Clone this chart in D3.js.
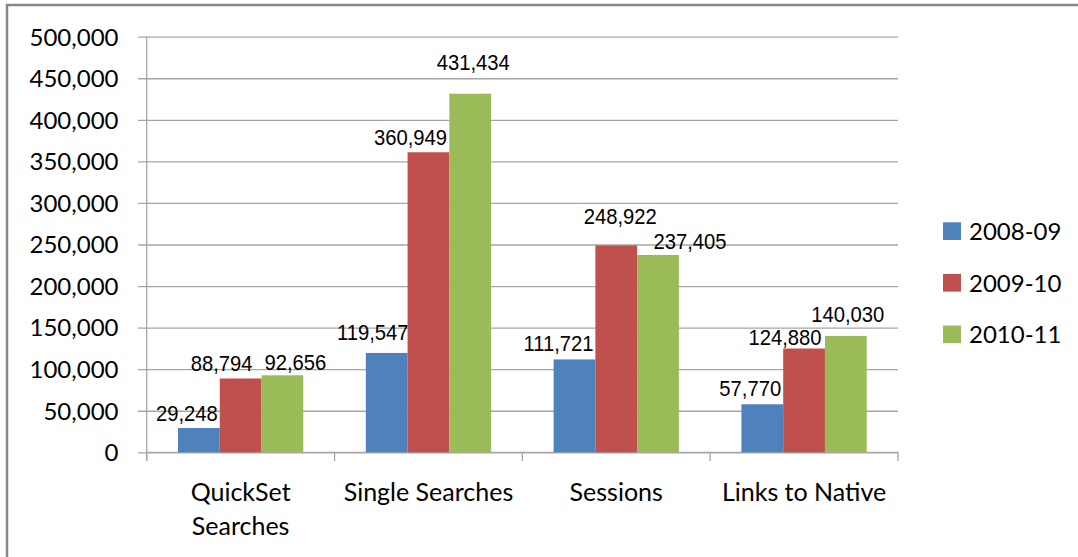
<!DOCTYPE html>
<html>
<head>
<meta charset="utf-8">
<script src="https://cdn.jsdelivr.net/npm/d3@7"></script>
<style>
  html, body { margin: 0; padding: 0; background: #ffffff; }
  svg { display: block; }
</style>
</head>
<body>
<svg id="chart" width="1078" height="557"></svg>
<script>
// ---- data ----
const categories = [["QuickSet", "Searches"], ["Single Searches"], ["Sessions"], ["Links to Native"]];
const seriesNames = ["2008-09", "2009-10", "2010-11"];
const values2008 = [29248, 119547, 111721, 57770];
const values2009 = [88794, 360949, 248922, 124880];
const values2010 = [92656, 431434, 237405, 140030];
const yTicks = [0, 50000, 100000, 150000, 200000, 250000, 300000, 350000, 400000, 450000, 500000];

// ---- layout / style (not data) ----
const colors = ["#4f81bd", "#c0504d", "#9bbb59"];
// manual label nudges (px) relative to centred-above-bar, as in the reference
const labelDx = [[-12, -14, -16, -12], [-19, -18, 4, -19], [13, 3, 32, 2]];
const labelGap = [[7, 13, 8, 8], [7, 7, 21, 3], [5, 24, 6, 14]];

(function () {
const seriesValues = [values2008, values2009, values2010];
const catKeys = categories.map(c => c.join(" "));

const svg = d3.select("#chart");
const pLeft = 146.7, pRight = 898, pTop = 36.7, pBottom = 452.3;
const tickOut = 8.7;

const x0 = d3.scaleBand().domain(catKeys).range([pLeft, pRight]).paddingInner(0.333).paddingOuter(0.1667);
const x1 = d3.scaleBand().domain(seriesNames).range([0, x0.bandwidth()]);
const y = d3.scaleLinear().domain([0, 500000]).range([pBottom, pTop]);
const fmt = d3.format(",");
const gridColor = "#a6a6a6";

// outer border
svg.append("rect").attr("x", 7).attr("y", 5).attr("width", 1100).attr("height", 600)
  .attr("fill", "none").attr("stroke", "#878787").attr("stroke-width", 2.5);

// gridlines + y labels
const yAxis = d3.axisLeft(y).tickValues(yTicks).tickSize(-(pRight - pLeft) - tickOut).tickFormat(fmt);
const gy = svg.append("g").attr("transform", `translate(${pLeft - tickOut},0)`).call(yAxis);
gy.select(".domain").remove();
gy.selectAll(".tick line").attr("stroke", gridColor).attr("stroke-width", 1.3);
gy.selectAll(".tick text")
  .attr("x", 118.5 - (pLeft - tickOut))
  .attr("dy", null).attr("y", 8.3)
  .attr("text-anchor", "end")
  .style("font-family", "Lato, 'Open Sans', sans-serif").style("font-size", "24px").attr("fill", "#000");

// y axis line
svg.append("line").attr("x1", pLeft).attr("x2", pLeft).attr("y1", pTop).attr("y2", pBottom + tickOut)
  .attr("stroke", gridColor).attr("stroke-width", 1.3);

// x axis line & ticks at category boundaries
const xAxis = d3.axisBottom(x0).tickSize(0).tickFormat("");
const gx = svg.append("g").attr("transform", `translate(0,${pBottom})`).call(xAxis);
gx.select(".domain").attr("stroke", gridColor).attr("stroke-width", 1.3).attr("fill", "none")
  .attr("d", `M${pLeft},0H${pRight}`);
gx.selectAll(".tick").remove();
const boundaries = catKeys.map(k => x0(k) - x0.step() * x0.paddingInner() / 2).concat([pRight]);
boundaries[0] = pLeft;
gx.selectAll("line.bt").data(boundaries).join("line").attr("class", "bt")
  .attr("x1", d => d).attr("x2", d => d).attr("y1", 0).attr("y2", tickOut)
  .attr("stroke", gridColor).attr("stroke-width", 1.3);

// category labels
categories.forEach((lines, i) => {
  const cx = x0(catKeys[i]) + x0.bandwidth() / 2;
  const t = svg.append("text").attr("x", cx).attr("y", 501).attr("text-anchor", "middle")
    .style("font-family", "Lato, 'Open Sans', sans-serif").style("font-size", "25px").attr("fill", "#000");
  lines.forEach((ln, j) => t.append("tspan").attr("x", cx).attr("dy", j === 0 ? 0 : 34).text(ln));
});

// bars + data labels
seriesNames.forEach((s, si) => {
  const g = svg.append("g");
  g.selectAll("rect").data(seriesValues[si]).join("rect")
    .attr("x", (d, i) => x0(catKeys[i]) + x1(s))
    .attr("y", d => y(d))
    .attr("width", x1.bandwidth())
    .attr("height", d => y(0) - y(d))
    .attr("fill", colors[si]);
  g.selectAll("text").data(seriesValues[si]).join("text")
    .attr("transform", (d, i) => {
      const cx = x0(catKeys[i]) + x1(s) + x1.bandwidth() / 2 + labelDx[si][i];
      const cy = y(d) - labelGap[si][i];
      return `translate(${cx},${cy}) scale(0.92,1)`;
    })
    .attr("text-anchor", "middle")
    .style("font-family", "'Liberation Sans', Arial, sans-serif").style("font-size", "22px").attr("fill", "#000")
    .text(d => fmt(d));
});

// legend
const legend = svg.append("g");
seriesNames.forEach((s, i) => {
  const ly = 240 + i * 51.6;
  legend.append("rect").attr("x", 943).attr("y", ly - 17.7).attr("width", 18).attr("height", 17.7).attr("fill", colors[i]);
  legend.append("text").attr("x", 969).attr("y", ly)
    .style("font-family", "Lato, 'Open Sans', sans-serif").style("font-size", "24px").attr("fill", "#000").text(s);
});
})();
</script>
</body>
</html>
